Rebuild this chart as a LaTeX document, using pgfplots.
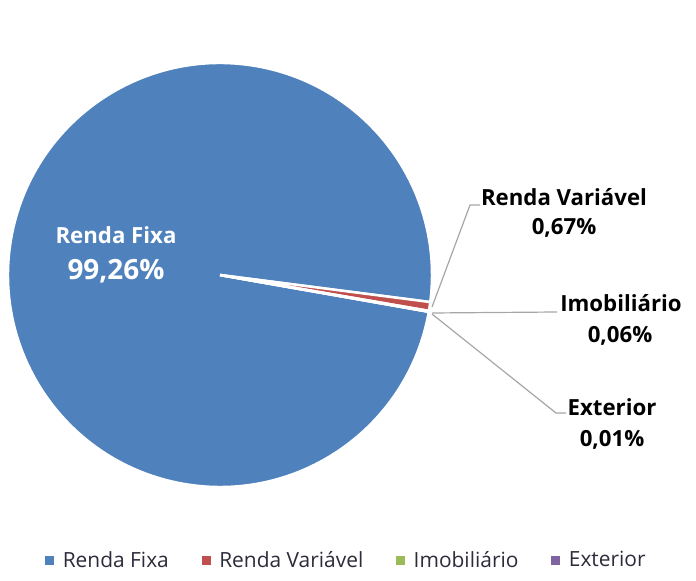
\documentclass[border=0pt]{standalone}
\usepackage{pgfplots}
\pgfplotsset{compat=1.18}
\usepackage{pgfplotstable}
\usepackage{fontspec}
\setmainfont{Open Sans}
\definecolor{cRF}{HTML}{4F81BD}
\definecolor{cRV}{HTML}{C0504D}
\definecolor{cIM}{HTML}{9BBB59}
\definecolor{cEX}{HTML}{8064A2}
\definecolor{leader}{HTML}{A6A6A6}
\definecolor{legtext}{HTML}{2B2B3A}
\pgfplotstableread{
name value
RendaFixa 99.26
RendaVariavel 0.67
Imobiliario 0.06
Exterior 0.01
}\piedata
\pgfplotsset{
  sqlegend/.style={legend image code/.code={\fill[##1] (0bp,-3.85bp) rectangle (7.7bp,3.85bp);}},
}
\begin{document}
\begin{tikzpicture}
\pgfplotstablegetelem{0}{value}\of\piedata \let\vA\pgfplotsretval
\pgfplotstablegetelem{1}{value}\of\piedata \let\vB\pgfplotsretval
\pgfplotstablegetelem{2}{value}\of\piedata \let\vC\pgfplotsretval
\pgfplotstablegetelem{3}{value}\of\piedata \let\vD\pgfplotsretval
\pgfmathsetmacro\aA{-10}
\pgfmathsetmacro\aB{\aA-3.6*\vA}
\pgfmathsetmacro\aC{\aB-3.6*\vB}
\pgfmathsetmacro\aD{\aC-3.6*\vC}
\pgfmathsetmacro\aE{\aD-3.6*\vD}
\begin{axis}[
  hide axis, scale only axis, width=696bp, height=581bp,
  xmin=0, xmax=696, ymin=0, ymax=581, clip=false,
  sqlegend,
  legend columns=4,
  legend style={draw=none, fill=none, inner sep=0pt, at={(axis cs:345.5,21)}, anchor=center,
    font=\fontsize{21}{24}\selectfont, text=legtext,
    nodes={inner sep=0pt},
    /tikz/every odd column/.append style={column sep=9.3bp},
    /tikz/every even column/.append style={column sep=33bp}},
]
\coordinate (ll) at (axis cs:0,0);
\coordinate (ur) at (axis cs:696,581);
\fill[cRF, draw=white, line width=2.5bp] (axis cs:220,306) -- ++(\aA:212bp) arc[start angle=\aA, end angle=\aB, radius=212bp] -- cycle;
\fill[cRV, draw=white, line width=2.5bp] (axis cs:220,306) -- ++(\aB:212bp) arc[start angle=\aB, end angle=\aC, radius=212bp] -- cycle;
\fill[cIM, draw=white, line width=2.5bp] (axis cs:220,306) -- ++(\aC:212bp) arc[start angle=\aC, end angle=\aD, radius=212bp] -- cycle;
\fill[cEX, draw=white, line width=2.5bp] (axis cs:220,306) -- ++(\aD:212bp) arc[start angle=\aD, end angle=\aE, radius=212bp] -- cycle;
\addlegendimage{cRF}\addlegendentry{Renda Fixa}
\addlegendimage{cRV}\addlegendentry{Renda Variável}
\addlegendimage{cIM}\addlegendentry{Imobiliário}
\addlegendimage{cEX}\addlegendentry{Exterior}
% leader lines
\draw[leader, line width=1.2bp] (axis cs:432,274) -- (axis cs:470,376) -- (axis cs:480,376);
\draw[leader, line width=1.2bp] (axis cs:432,268) -- (axis cs:557,269);
\draw[leader, line width=1.2bp] (axis cs:432,267) -- (axis cs:556,168) -- (axis cs:566,168);
% labels
\node[anchor=base, text=white, font=\bfseries\fontsize{22.3}{26}\selectfont, inner sep=0pt] at (axis cs:116,337) {Renda Fixa};
\node[anchor=base, text=white, font=\bfseries\fontsize{28}{32}\selectfont, inner sep=0pt] at (axis cs:116,301) {99,26\%};
\node[anchor=base, font=\bfseries\fontsize{22.3}{26}\selectfont, inner sep=0pt] at (axis cs:564,375) {Renda Variável};
\node[anchor=base, font=\bfseries\fontsize{22.3}{26}\selectfont, inner sep=0pt] at (axis cs:564,346) {0,67\%};
\node[anchor=base, font=\bfseries\fontsize{22.3}{26}\selectfont, inner sep=0pt] at (axis cs:621,269) {Imobiliário};
\node[anchor=base, font=\bfseries\fontsize{22.3}{26}\selectfont, inner sep=0pt] at (axis cs:620,238) {0,06\%};
\node[anchor=base, font=\bfseries\fontsize{22.3}{26}\selectfont, inner sep=0pt] at (axis cs:612,165) {Exterior};
\node[anchor=base, font=\bfseries\fontsize{22.3}{26}\selectfont, inner sep=0pt] at (axis cs:612,134) {0,01\%};
\end{axis}
\pgfresetboundingbox
\path[use as bounding box] (ll) rectangle (ur);
\end{tikzpicture}
\end{document}
